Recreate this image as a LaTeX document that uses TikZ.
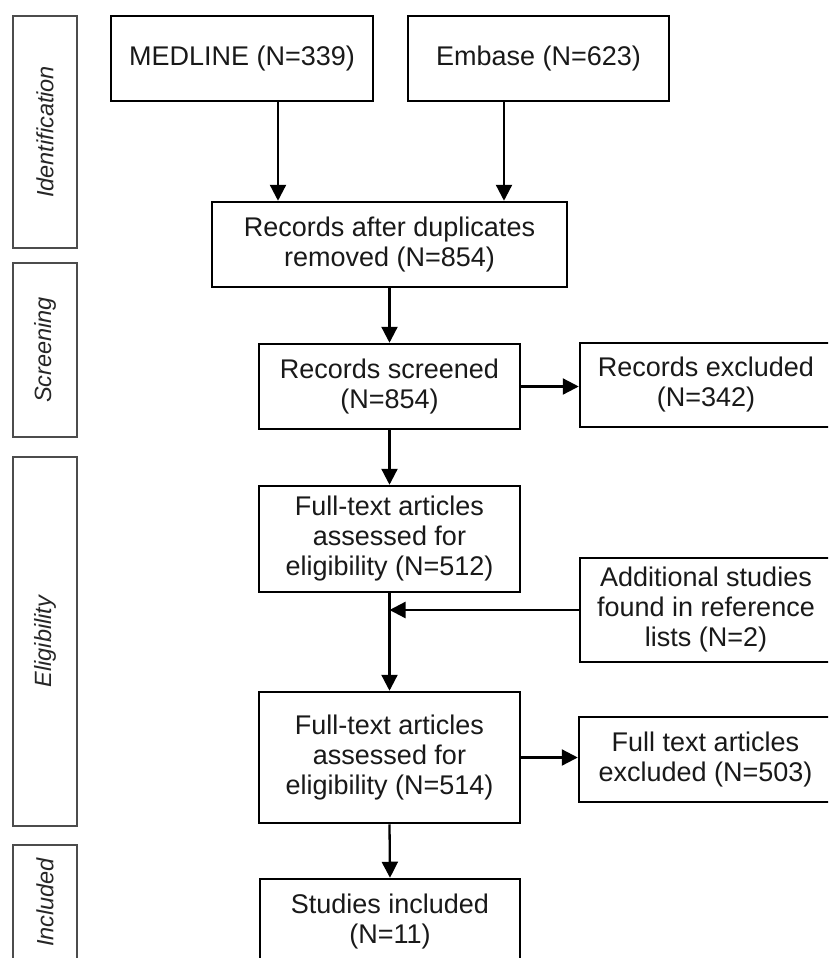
\documentclass[tikz,border=0pt]{standalone}
\usepackage{fontspec}
\setmainfont{Liberation Sans}
\usetikzlibrary{arrows.meta,calc}
\begin{document}
\begin{tikzpicture}[x=1pt,y=-1pt,
  box/.style={draw=black,line width=2.5pt,rectangle,inner sep=0pt,align=center,
    font=\fontsize{27}{30}\selectfont,text=black!90},
  side/.style={draw=black!70,line width=2pt,rectangle,inner sep=0pt,rotate=90,
    font=\fontsize{23.5}{26}\selectfont\itshape,text=black!85},
  arr/.style={line width=2.3pt,-{Triangle[length=16pt,width=16pt]}}]
\useasboundingbox (0,0) rectangle (828,958);
\clip (0,0) rectangle (828,958);
\fill[white] (0,0) rectangle (828,958);
% side stage boxes
\node[side,minimum width=232pt,minimum height=64pt] (sid) at (45,132) {Identification};
\node[side,minimum width=174pt,minimum height=64pt] (sscr) at (45,350) {Screening};
\node[side,minimum width=369pt,minimum height=64pt] (selig) at (45,641.5) {Eligibility};
\node[side,minimum width=115pt,minimum height=64pt] (sincl) at (45,902.5) {Included};
% flow boxes
\node[box,minimum width=262pt,minimum height=85pt] (medline) at (242,58.5) {MEDLINE (N=339)};
\node[box,minimum width=261pt,minimum height=85pt] (embase) at (538.5,58.5) {Embase (N=623)};
\node[box,minimum width=355pt,minimum height=85pt] (dup) at (389.5,244.5) {Records after duplicates\\removed (N=854)};
\node[box,minimum width=261pt,minimum height=85pt] (screened) at (389.5,386.5) {Records screened\\(N=854)};
\node[box,minimum width=252pt,minimum height=84pt] (excl) at (706,385) {Records excluded\\(N=342)};
\node[box,minimum width=261pt,minimum height=106pt] (ft1) at (389.5,539) {Full-text articles\\assessed for\\eligibility (N=512)};
\node[box,minimum width=252pt,minimum height=104pt] (add) at (706,610) {Additional studies\\found in reference\\lists (N=2)};
\node[box,minimum width=261pt,minimum height=131pt] (ft2) at (389.5,757.5) {Full-text articles\\assessed for\\eligibility (N=514)};
\node[box,minimum width=253pt,minimum height=85pt] (fexcl) at (705.5,759.5) {Full text articles\\excluded (N=503)};
\node[box,minimum width=260pt,minimum height=86pt] (incl) at (390,922) {Studies included\\(N=11)};
% connectors
\draw[arr] ([xshift=36pt]medline.south) -- ([xshift=36pt]medline.south |- dup.north);
\draw[arr] ([xshift=-34.5pt]embase.south) -- ([xshift=-34.5pt]embase.south |- dup.north);
\draw[arr] (dup.south) -- (screened.north);
\draw[arr] (screened.east) -- (screened.east -| excl.west);
\draw[arr] (screened.south) -- (ft1.north);
\draw[arr] (ft1.south) -- (ft2.north);
\draw[arr] (add.west) -- (add.west -| ft1.south);
\draw[arr] (ft2.east) -- (ft2.east -| fexcl.west);
\draw[arr] (ft2.south) -- (incl.north);
\end{tikzpicture}
\end{document}
